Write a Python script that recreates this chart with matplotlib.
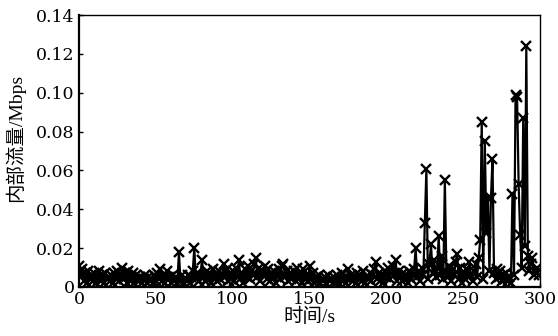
import matplotlib
matplotlib.use('Agg')
import matplotlib.pyplot as plt
import numpy as np

# 时间 (s) 与内部流量 (Mbps)
t = np.arange(0, 300)
flow = [
    0.011, 0.006, 0.009, 0.003, 0.007, 0.002, 0.008, 0.004, 0.006, 0.003,
    0.007, 0.002, 0.005, 0.008, 0.003, 0.006, 0.002, 0.007, 0.004, 0.005,
    0.003, 0.006, 0.002, 0.007, 0.004, 0.008, 0.003, 0.006, 0.010, 0.004,
    0.007, 0.002, 0.008, 0.005, 0.003, 0.007, 0.002, 0.006, 0.004, 0.003,
    0.005, 0.002, 0.004, 0.006, 0.002, 0.005, 0.003, 0.004, 0.002, 0.006,
    0.003, 0.007, 0.004, 0.009, 0.003, 0.006, 0.002, 0.008, 0.004, 0.005,
    0.002, 0.006, 0.003, 0.005, 0.002, 0.018, 0.003, 0.006, 0.002, 0.004,
    0.003, 0.006, 0.002, 0.005, 0.008, 0.020, 0.004, 0.007, 0.003, 0.006,
    0.014, 0.005, 0.003, 0.008, 0.004, 0.006, 0.002, 0.009, 0.005, 0.007,
    0.003, 0.008, 0.004, 0.006, 0.012, 0.005, 0.009, 0.003, 0.007, 0.004,
    0.008, 0.003, 0.010, 0.005, 0.014, 0.004, 0.007, 0.002, 0.009, 0.005,
    0.011, 0.004, 0.008, 0.006, 0.012, 0.015, 0.005, 0.010, 0.003, 0.008,
    0.006, 0.011, 0.004, 0.009, 0.003, 0.007, 0.005, 0.008, 0.002, 0.006,
    0.009, 0.004, 0.011, 0.012, 0.005, 0.008, 0.003, 0.007, 0.004, 0.006,
    0.008, 0.003, 0.010, 0.005, 0.007, 0.002, 0.009, 0.004, 0.006, 0.003,
    0.011, 0.004, 0.007, 0.002, 0.005, 0.003, 0.006, 0.002, 0.004, 0.003,
    0.005, 0.002, 0.006, 0.003, 0.004, 0.002, 0.005, 0.003, 0.006, 0.002,
    0.004, 0.007, 0.003, 0.005, 0.002, 0.009, 0.004, 0.006, 0.003, 0.005,
    0.002, 0.007, 0.004, 0.006, 0.003, 0.008, 0.002, 0.005, 0.004, 0.007,
    0.003, 0.006, 0.009, 0.013, 0.004, 0.007, 0.003, 0.006, 0.002, 0.008,
    0.005, 0.010, 0.004, 0.007, 0.011, 0.006, 0.014, 0.003, 0.008, 0.005,
    0.003, 0.007, 0.004, 0.006, 0.002, 0.008, 0.004, 0.006, 0.009, 0.020,
    0.005, 0.008, 0.003, 0.010, 0.006, 0.033, 0.061, 0.004, 0.012, 0.022,
    0.007, 0.014, 0.005, 0.010, 0.026, 0.006, 0.016, 0.004, 0.055, 0.008,
    0.005, 0.011, 0.003, 0.009, 0.006, 0.013, 0.017, 0.004, 0.010, 0.002,
    0.007, 0.004, 0.009, 0.005, 0.013, 0.006, 0.003, 0.008, 0.012, 0.005,
    0.015, 0.024, 0.085, 0.004, 0.075, 0.028, 0.046, 0.008, 0.046, 0.066,
    0.007, 0.004, 0.009, 0.005, 0.008, 0.003, 0.006, 0.004, 0.007, 0.003,
    0.005, 0.002, 0.048, 0.006, 0.099, 0.098, 0.053, 0.027, 0.010, 0.087,
    0.021, 0.124, 0.016, 0.008, 0.012, 0.015, 0.006, 0.007, 0.010, 0.006,
]
yticks = [0, 0.02, 0.04, 0.06, 0.08, 0.10, 0.12, 0.14]
ytick_labels = ['0', '0.02', '0.04', '0.06', '0.08', '0.10', '0.12', '0.14']
xticks = [0, 50, 100, 150, 200, 250, 300]

num_font = ['DejaVu Serif', 'Noto Sans CJK SC']
lab_font = ['Liberation Serif', 'Noto Sans CJK SC']

fig = plt.figure(figsize=(5.58, 3.36), dpi=100)
ax = fig.add_axes([0.1416, 0.146, 0.8264, 0.809])

ax.plot(t, flow, color='black', linestyle='-', linewidth=1.6,
        marker='x', markersize=6.5, markeredgewidth=1.7)

ax.set_xlim(0, 300)
ax.set_ylim(0, 0.14)
ax.set_xticks(xticks)
ax.set_xticklabels([str(v) for v in xticks], family=num_font, fontsize=12.5)
ax.set_yticks(yticks)
ax.set_yticklabels(ytick_labels, family=num_font, fontsize=12.5)
ax.tick_params(direction='in', length=3, width=1, top=False, right=False, pad=3)

ax.spines['left'].set_linewidth(1.6)
ax.spines['bottom'].set_linewidth(1.6)
ax.spines['top'].set_linewidth(1.0)
ax.spines['right'].set_linewidth(1.0)

ax.set_xlabel('时间/s', family=lab_font, fontsize=14, labelpad=0)
ax.set_ylabel('内部流量/Mbps', family=lab_font, fontsize=14)
ax.yaxis.set_label_coords(-0.118, 0.55)

fig.savefig('out.png', dpi=100)
